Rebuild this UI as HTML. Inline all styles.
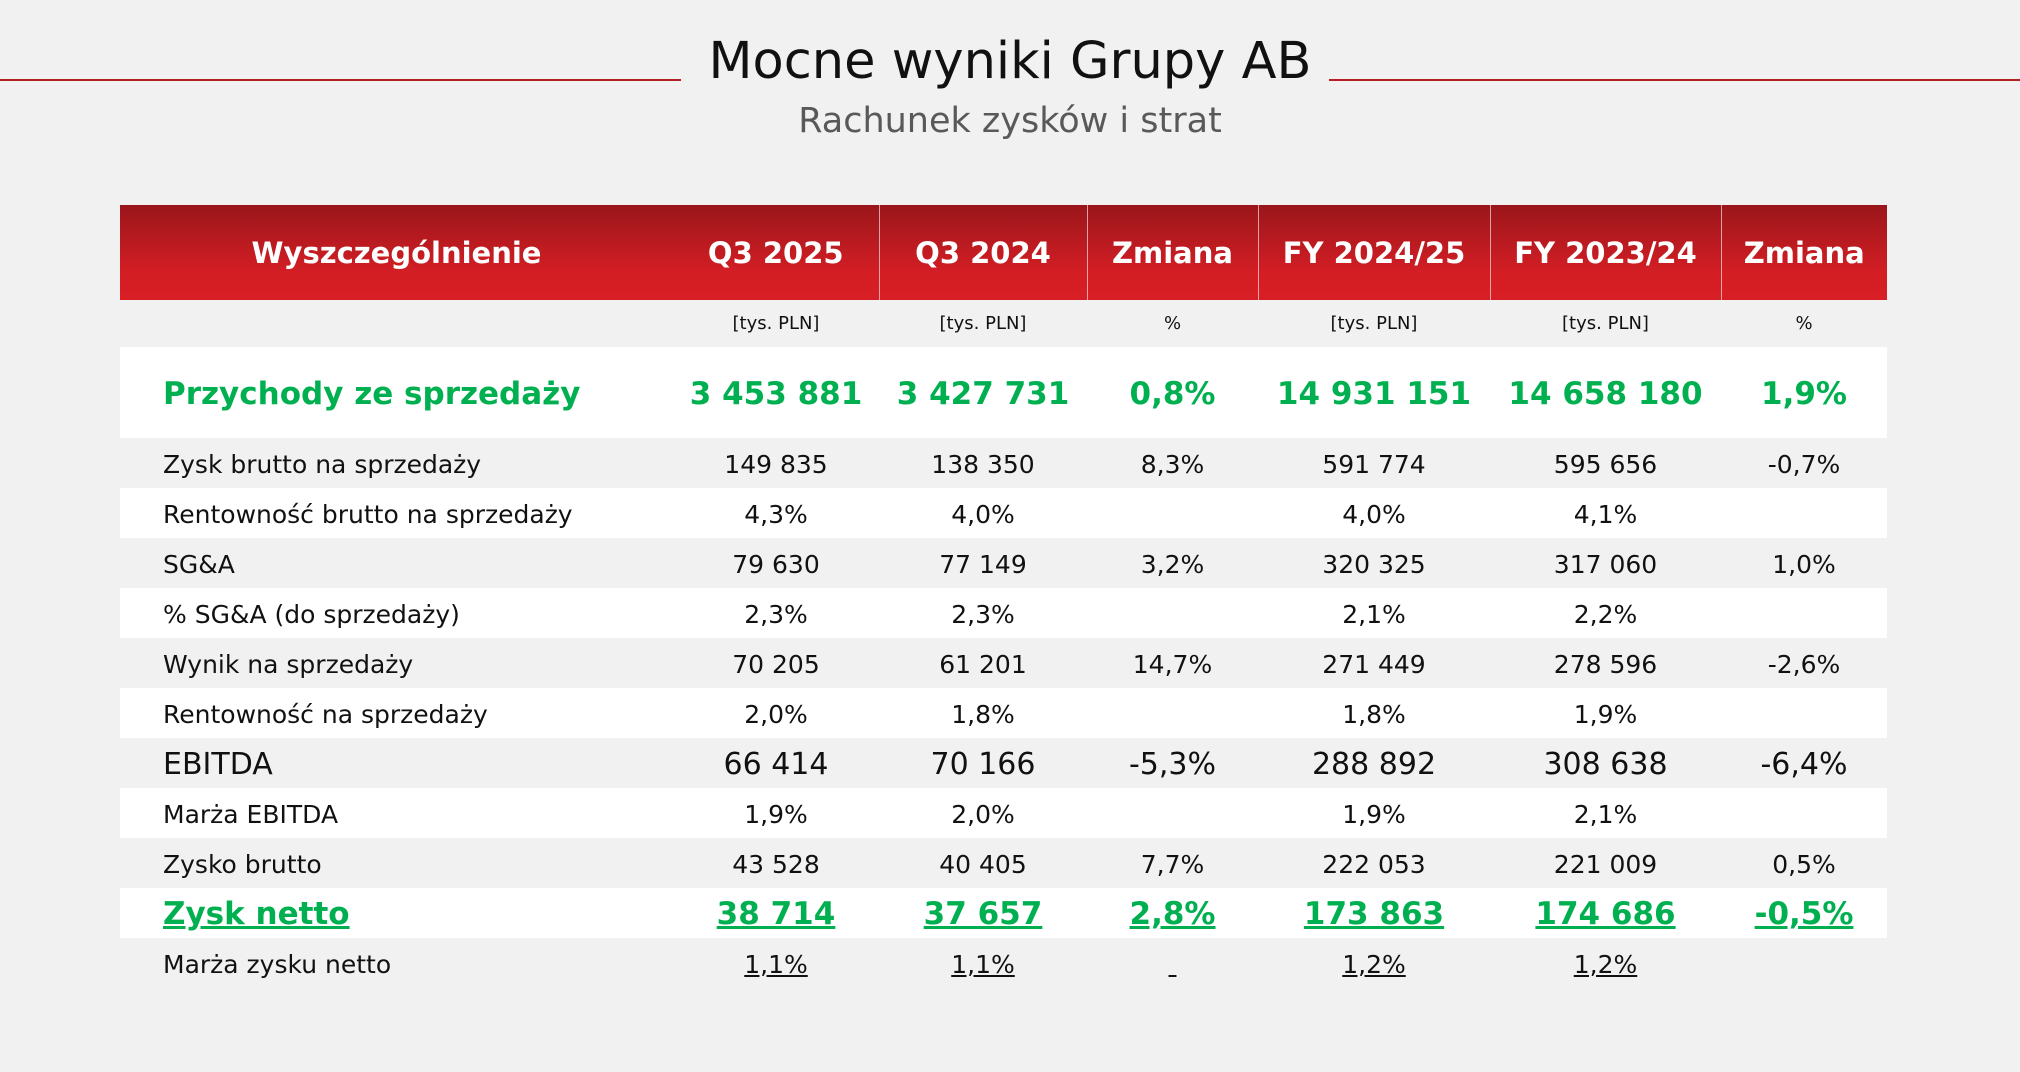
<!DOCTYPE html>
<html><head><meta charset="utf-8"><style>
body{margin:0;width:2020px;height:1072px;background:#f1f1f1;font-family:"DejaVu Sans","Liberation Sans",sans-serif;position:relative;overflow:hidden}
.t{position:absolute;left:0;width:2020px;text-align:center}
.ln{position:absolute;top:79px;height:2px;background:#b52025}
table{position:absolute;left:120px;top:205px;border-collapse:collapse;table-layout:fixed;width:1767px}
td{padding:0;text-align:center;color:#111;font-size:25px;white-space:nowrap}
td:first-child{text-align:left;padding-left:43px}
tr.h td{height:95px;color:#fff;font-weight:bold;font-size:29px;border-left:1px solid rgba(255,255,255,.6)}
tr.h td:first-child{text-align:center;padding-left:0;border-left:none}
tr.h{background:linear-gradient(#9a161b,#d21e24 70%,#d81f25)}
tr.u td{height:47px;font-size:18px}
tr.g td{height:89px;background:#fff;color:#00b050;font-weight:bold;font-size:31px;padding-top:2px}
tr.r td{height:48px;padding-top:2px}
tr.w td{background:#fff}
tr.e td{font-size:30px}
tr.n td{color:#00b050;font-weight:bold;font-size:31px;text-decoration:underline;background:#fff}
tr.m td span{text-decoration:underline}
</style></head><body>
<div class="ln" style="left:0;width:681px"></div>
<div class="ln" style="left:1329px;width:691px"></div>
<div class="t" style="top:32px;font-size:51px;color:#111">Mocne wyniki Grupy AB</div>
<div class="t" style="top:101px;font-size:35px;color:#595959">Rachunek zysków i strat</div>
<table>
<colgroup><col style="width:553px"><col style="width:206px"><col style="width:208px"><col style="width:171px"><col style="width:232px"><col style="width:231px"><col style="width:166px"></colgroup>
<tr class="h"><td>Wyszczególnienie</td><td style="border-left:none">Q3 2025</td><td>Q3 2024</td><td>Zmiana</td><td>FY 2024/25</td><td>FY 2023/24</td><td>Zmiana</td></tr>
<tr class="u"><td></td><td>[tys. PLN]</td><td>[tys. PLN]</td><td>%</td><td>[tys. PLN]</td><td>[tys. PLN]</td><td>%</td></tr>
<tr class="g"><td>Przychody ze sprzedaży</td><td>3 453 881</td><td>3 427 731</td><td>0,8%</td><td>14 931 151</td><td>14 658 180</td><td>1,9%</td></tr>
<tr class="r"><td>Zysk brutto na sprzedaży</td><td>149 835</td><td>138 350</td><td>8,3%</td><td>591 774</td><td>595 656</td><td>-0,7%</td></tr>
<tr class="r w"><td>Rentowność brutto na sprzedaży</td><td>4,3%</td><td>4,0%</td><td></td><td>4,0%</td><td>4,1%</td><td></td></tr>
<tr class="r"><td>SG&amp;A</td><td>79 630</td><td>77 149</td><td>3,2%</td><td>320 325</td><td>317 060</td><td>1,0%</td></tr>
<tr class="r w"><td>% SG&amp;A (do sprzedaży)</td><td>2,3%</td><td>2,3%</td><td></td><td>2,1%</td><td>2,2%</td><td></td></tr>
<tr class="r"><td>Wynik na sprzedaży</td><td>70 205</td><td>61 201</td><td>14,7%</td><td>271 449</td><td>278 596</td><td>-2,6%</td></tr>
<tr class="r w"><td>Rentowność na sprzedaży</td><td>2,0%</td><td>1,8%</td><td></td><td>1,8%</td><td>1,9%</td><td></td></tr>
<tr class="r e"><td>EBITDA</td><td>66 414</td><td>70 166</td><td>-5,3%</td><td>288 892</td><td>308 638</td><td>-6,4%</td></tr>
<tr class="r w"><td>Marża EBITDA</td><td>1,9%</td><td>2,0%</td><td></td><td>1,9%</td><td>2,1%</td><td></td></tr>
<tr class="r"><td>Zysko brutto</td><td>43 528</td><td>40 405</td><td>7,7%</td><td>222 053</td><td>221 009</td><td>0,5%</td></tr>
<tr class="r n"><td>Zysk netto</td><td>38 714</td><td>37 657</td><td>2,8%</td><td>173 863</td><td>174 686</td><td>-0,5%</td></tr>
<tr class="r m"><td>Marża zysku netto</td><td><span>1,1%</span></td><td><span>1,1%</span></td><td><span>&nbsp;</span></td><td><span>1,2%</span></td><td><span>1,2%</span></td><td></td></tr>
</table>
</body></html>
